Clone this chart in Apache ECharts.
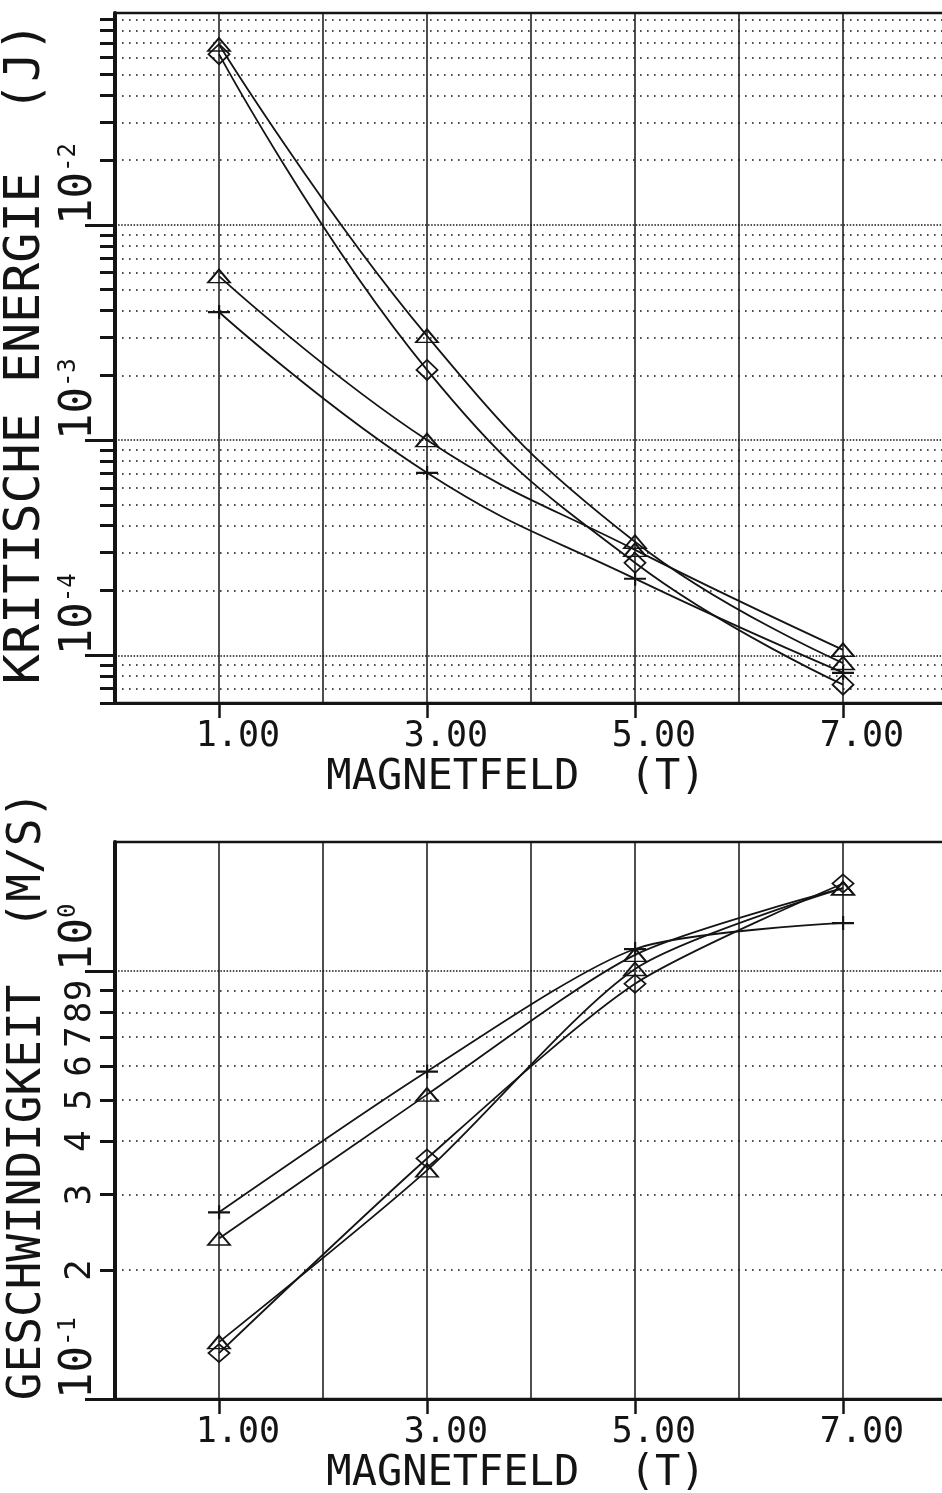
<!DOCTYPE html>
<html><head><meta charset="utf-8">
<script src="https://cdn.jsdelivr.net/npm/echarts@6/dist/echarts.min.js"></script>
<style>html,body{margin:0;padding:0;background:#fff}#c{width:942px;height:1493px}</style>
</head><body><div id="c"></div>
<script>
// ---------- data ----------
const fieldValues = [1, 3, 5, 7];                 // MAGNETFELD (T)
const fieldTickValues = [1, 3, 5, 7];
const xTitle = 'MAGNETFELD  (T)';

// top chart: KRITISCHE ENERGIE (J)
const energyTitle = 'KRITISCHE ENERGIE  (J)';
const energyMin = 6e-5, energyMax = 0.0966;
const energyTriangleA = [0.0690, 3.05e-3, 3.37e-4, 9.2e-5];
const energyDiamond   = [0.0622, 2.12e-3, 2.69e-4, 7.3e-5];
const energyTriangleB = [5.78e-3, 1.0e-3, 3.09e-4, 1.06e-4];
const energyPlus      = [3.94e-3, 7.05e-4, 2.27e-4, 8.3e-5];
const energyMajorTicks = [1e-4, 1e-3, 1e-2];
const energyMinorTicks = [6e-5, 7e-5, 8e-5, 9e-5,
  2e-4, 3e-4, 4e-4, 5e-4, 6e-4, 7e-4, 8e-4, 9e-4,
  2e-3, 3e-3, 4e-3, 5e-3, 6e-3, 7e-3, 8e-3, 9e-3,
  2e-2, 3e-2, 4e-2, 5e-2, 6e-2, 7e-2, 8e-2, 9e-2];

// bottom chart: GESCHWINDIGKEIT (M/S)
const speedTitle = 'GESCHWINDIGKEIT  (M/S)';
const speedMin = 0.1, speedMax = 2;
const speedPlus      = [0.273, 0.582, 1.125, 1.294];
const speedTriangleA = [0.237, 0.514, 1.09, 1.56];
const speedTriangleB = [0.1358, 0.342, 1.01, 1.56];
const speedDiamond   = [0.128, 0.3646, 0.933, 1.60];
const speedMajorTicks = [0.1, 1];
const speedMinorTicks = [0.2, 0.3, 0.4, 0.5, 0.6, 0.7, 0.8, 0.9];
const speedMinorLabels = ['2', '3', '4', '5', '6', '7', '8', '9'];

// ---------- styling ----------
const INK = '#141414';
const FONT = 'DejaVu Sans Mono';
const PLUS = 'path://M0,6L22,6L22,8.2L0,8.2Z M10,0L12.2,0L12.2,14L10,14Z';

function pair(ys) { return fieldValues.map((x, i) => [x, ys[i]]); }
function powerLabel(v) { return '10{s|' + Math.round(Math.log10(v)) + '}'; }
const richPow = {
  s: { fontSize: 24, fontFamily: FONT, color: INK, lineHeight: 24, verticalAlign: 'top' }
};

function xAxesFor(gridIndex) {
  return [
    { type: 'value', gridIndex, min: 0, max: 8, interval: 1, position: 'bottom',
      axisLine: { show: true, lineStyle: { color: INK, width: 3 } },
      axisTick: { show: false }, axisLabel: { show: false },
      splitLine: { show: true, lineStyle: { color: INK, width: 1.5, type: 'solid' } } },
    { type: 'value', gridIndex, min: 0, max: 8, position: 'bottom',
      axisLine: { show: false }, splitLine: { show: false },
      axisTick: { show: true, customValues: fieldTickValues, length: 15, lineStyle: { color: INK, width: 2.5 } },
      axisLabel: { show: true, customValues: fieldTickValues, formatter: v => Number(v).toFixed(2),
        fontSize: 35, fontFamily: FONT, color: INK, margin: 16, padding: [0, 0, 0, 38], hideOverlap: false },
      name: xTitle, nameLocation: 'middle', nameGap: 54,
      nameTextStyle: { fontSize: 42, fontFamily: FONT, color: INK, padding: [0, 30, 0, 0] } }
  ];
}

function minorAxis(gridIndex, min, max, ticks, title, titleSize, titlePad, labels) {
  return { type: 'log', logBase: 10, gridIndex, min, max, position: 'left',
    axisLine: { show: true, lineStyle: { color: INK, width: 4 } },
    axisTick: { show: true, customValues: ticks, length: 15, lineStyle: { color: INK, width: 3 } },
    axisLabel: labels ? { show: true, customValues: ticks, rotate: 90, align: 'center', verticalAlign: 'bottom',
        margin: 16, fontSize: 36, fontFamily: FONT, color: INK, hideOverlap: false,
        formatter: v => labels[ticks.findIndex(t => Math.abs(t - v) < 1e-9)] } : { show: false },
    splitLine: { show: true, lineStyle: { color: INK, width: 1.6, type: [1.6, 5.4] } },
    name: title, nameLocation: 'middle', nameGap: 64,
    nameTextStyle: { fontSize: titleSize, fontFamily: FONT, color: INK, padding: titlePad } };
}
function majorAxis(gridIndex, min, max, ticks) {
  return { type: 'log', logBase: 10, gridIndex, min, max, position: 'left',
    axisLine: { show: false },
    axisTick: { show: true, customValues: ticks, length: 30, lineStyle: { color: INK, width: 3 } },
    axisLabel: { show: true, customValues: ticks, formatter: powerLabel, rich: richPow,
      fontSize: 44, fontFamily: FONT, color: INK, lineHeight: 46, hideOverlap: false,
      rotate: 90, align: 'left', verticalAlign: 'bottom', margin: 12 },
    splitLine: { show: true, lineStyle: { color: INK, width: 1.5, type: [1.5, 1.6] } } };
}

function lineSeries(xi, yi, data, symbol, size, smooth) {
  const filled = symbol === PLUS;
  return { type: 'line', xAxisIndex: xi, yAxisIndex: yi, data: pair(data), smooth,
    symbol, symbolSize: size, showAllSymbol: true, z: 5,
    lineStyle: { color: INK, width: 1.8 },
    itemStyle: filled ? { color: INK, borderWidth: 0 }
                      : { color: 'rgba(255,255,255,0)', borderColor: INK, borderWidth: 1.8 } };
}

const gridBase = { left: 115, width: 832, show: true, borderColor: INK, borderWidth: 2.5,
  containLabel: false, outerBoundsMode: 'none' };

const chart = echarts.init(document.getElementById('c'));
chart.setOption({
  animation: false,
  backgroundColor: '#fff',
  grid: [
    Object.assign({}, gridBase, { top: 13, height: 690 }),
    Object.assign({}, gridBase, { top: 842, height: 557 })
  ],
  xAxis: [...xAxesFor(0), ...xAxesFor(1)],
  yAxis: [
    minorAxis(0, energyMin, energyMax, energyMinorTicks, energyTitle, 50, [0, 0, 0, 10], null),
    majorAxis(0, energyMin, energyMax, energyMajorTicks),
    minorAxis(1, speedMin, speedMax, speedMinorTicks, speedTitle, 46, [0, 0, 0, 50], speedMinorLabels),
    majorAxis(1, speedMin, speedMax, speedMajorTicks)
  ],
  series: [
    lineSeries(0, 0, energyTriangleA, 'triangle', [22, 13], 0.45),
    lineSeries(0, 0, energyDiamond, 'diamond', [21, 20], 0.45),
    lineSeries(0, 0, energyTriangleB, 'triangle', [22, 13], 0.45),
    lineSeries(0, 0, energyPlus, PLUS, [22, 14], 0.45),
    lineSeries(2, 2, speedPlus, PLUS, [22, 14], 0.25),
    lineSeries(2, 2, speedTriangleA, 'triangle', [22, 13], 0.25),
    lineSeries(2, 2, speedTriangleB, 'triangle', [22, 13], 0.25),
    lineSeries(2, 2, speedDiamond, 'diamond', [21, 18], 0.25)
  ]
});
</script></body></html>
